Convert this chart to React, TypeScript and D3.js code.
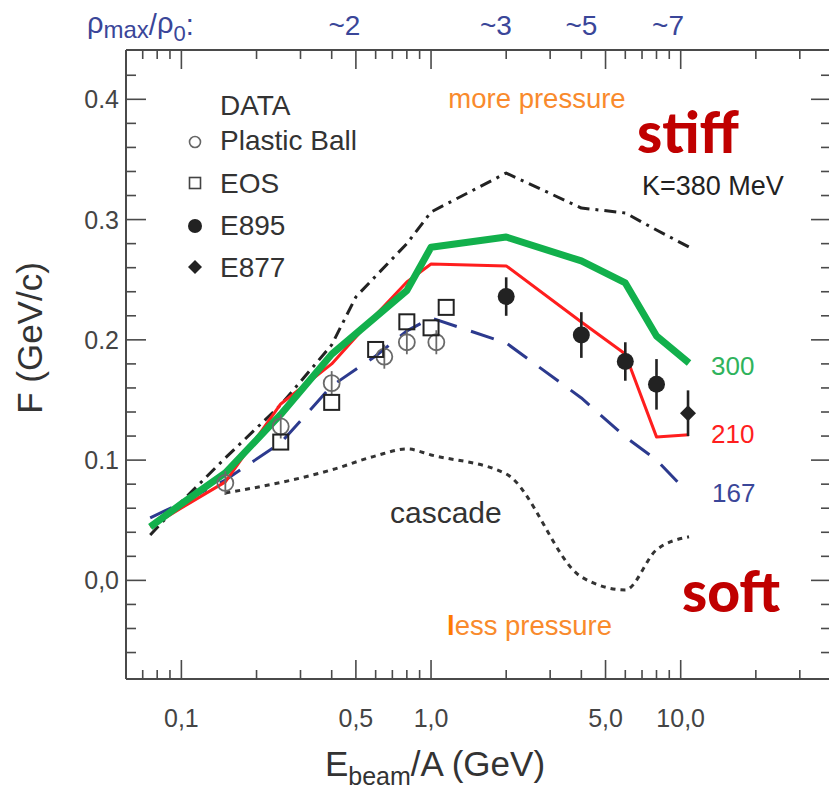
import React from "react";
import * as d3 from "d3";

// Beam energies (GeV per nucleon) at which the transport calculations are drawn
const curveE = [0.075, 0.1, 0.15, 0.25, 0.4, 0.6, 0.8, 1.0, 2, 4, 6, 8, 10.8];
const k300 = [0.0445, 0.0636, 0.0894, 0.138, 0.188, 0.219, 0.241, 0.277, 0.2855, 0.2656, 0.2473, 0.2032, 0.1808];
const k210 = [0.0445, 0.0603, 0.0819, 0.1467, 0.18, 0.2207, 0.2481, 0.2631, 0.2615, 0.2149, 0.1883, 0.1193, 0.121];
const k167E = [0.075, 0.1, 0.15, 0.25, 0.4, 0.6, 0.8, 1.0, 2, 4, 6, 8, 9.8];
const k167 = [0.052, 0.0644, 0.0835, 0.1143, 0.1617, 0.1866, 0.2074, 0.2182, 0.1974, 0.1517, 0.1193, 0.1002, 0.081];
const k380E = [0.075, 0.1, 0.15, 0.25, 0.4, 0.5, 0.6, 0.8, 1.0, 2, 4, 6, 8, 10.8];
const k380 = [0.0378, 0.0653, 0.1018, 0.1459, 0.1958, 0.2357, 0.253, 0.28, 0.3063, 0.3387, 0.3096, 0.3055, 0.2913, 0.2772];
const cascadeE = [0.15, 0.25, 0.4, 0.6, 0.8, 1.0, 2, 4, 6, 8, 10.8];
const cascade = [0.0727, 0.0814, 0.0919, 0.1035, 0.1093, 0.1043, 0.0885, 0.0029, -0.0079, 0.0254, 0.0362];

// Measured flow
const plasticBallE = [0.15, 0.25, 0.4, 0.65, 0.8, 1.05];
const plasticBallF = [0.081, 0.128, 0.164, 0.186, 0.198, 0.198];
const plasticBallErr = [0.01, 0.01, 0.01, 0.01, 0.01, 0.01];
const eosE = [0.25, 0.4, 0.6, 0.8, 1.0, 1.15];
const eosF = [0.115, 0.148, 0.192, 0.215, 0.21, 0.227];
const e895E = [2, 4, 6, 8];
const e895F = [0.236, 0.204, 0.182, 0.163];
const e895Err = [0.016, 0.019, 0.016, 0.021];
const e877E = [10.7];
const e877F = [0.139];
const e877Err = [0.019];

// Axis ticks
const xMajor = [0.1, 0.5, 1, 5, 10];
const xMajorLabels = ["0,1", "0,5", "1,0", "5,0", "10,0"];
const xMinor = [0.07, 0.08, 0.09, 0.2, 0.3, 0.4, 0.6, 0.7, 0.8, 0.9, 2, 3, 4, 6, 7, 8, 9, 20, 30];
const yMajor = [0.0, 0.1, 0.2, 0.3, 0.4];
const yMajorLabels = ["0,0", "0.1", "0.2", "0.3", "0.4"];
const yMinor = [-0.06, -0.04, -0.02, 0.02, 0.04, 0.06, 0.08, 0.12, 0.14, 0.16, 0.18, 0.22, 0.24, 0.26, 0.28, 0.32, 0.34, 0.36, 0.38, 0.42];

// Peak density reached at a given beam energy
const densityE = [0.45, 1.82, 4.0, 8.9];
const densityLabels = ["~2", "~3", "~5", "~7"];

const W = 829;
const H = 789;
const FONT = "'Liberation Sans', Arial, Helvetica, sans-serif";

const x = d3.scaleLog().domain([0.06, 40]).range([126, 831]);
const y = d3.scaleLinear().domain([-0.082, 0.441]).range([679, 50]);

const AXIS = "#4a4a4a";
const GREEN = "#12b04c";
const RED = "#ff1e1e";
const BLUE = "#2c3a8e";
const ORANGE = "#f98a2c";
const DARKRED = "#c00000";

function pathOf(es: number[], vs: number[], curve: d3.CurveFactory = d3.curveLinear) {
  const line = d3
    .line<number>()
    .x((_, i) => x(es[i]))
    .y((v) => y(v))
    .curve(curve);
  return line(vs) || "";
}

export default function App() {
  const left = x.range()[0];
  const right = x.range()[1];
  const top = y.range()[1];
  const bottom = y.range()[0];

  return (
    <svg
      width={W}
      height={H}
      viewBox={`0 0 ${W} ${H}`}
      style={{ position: "absolute", left: 0, top: 0, background: "#fff" }}
      fontFamily={FONT}
    >
      <rect x={0} y={0} width={W} height={H} fill="#fff" />

      {/* frame */}
      <g stroke={AXIS} strokeWidth={2} fill="none">
        <line x1={left} x2={left} y1={top} y2={bottom} />
        <line x1={right} x2={right} y1={top} y2={bottom} />
        <line x1={left} x2={right} y1={top} y2={top} />
        <line x1={left} x2={right} y1={bottom} y2={bottom} />
      </g>

      {/* ticks on all four sides, pointing inward */}
      <g stroke={AXIS} strokeWidth={1.6}>
        {xMajor.map((e) => (
          <g key={"xM" + e}>
            <line x1={x(e)} x2={x(e)} y1={bottom} y2={bottom - 19} />
            <line x1={x(e)} x2={x(e)} y1={top} y2={top + 19} />
          </g>
        ))}
        {xMinor.map((e) => (
          <g key={"xm" + e}>
            <line x1={x(e)} x2={x(e)} y1={bottom} y2={bottom - 9} />
            <line x1={x(e)} x2={x(e)} y1={top} y2={top + 9} />
          </g>
        ))}
        {yMajor.map((v) => (
          <g key={"yM" + v}>
            <line x1={left} x2={left + 20} y1={y(v)} y2={y(v)} />
            <line x1={right} x2={right - 20} y1={y(v)} y2={y(v)} />
          </g>
        ))}
        {yMinor.map((v) => (
          <g key={"ym" + v}>
            <line x1={left} x2={left + 10} y1={y(v)} y2={y(v)} />
            <line x1={right} x2={right - 10} y1={y(v)} y2={y(v)} />
          </g>
        ))}
      </g>

      {/* tick labels */}
      <g fill="#444" fontSize={25}>
        {xMajor.map((e, i) => (
          <text key={"xl" + e} x={x(e)} y={727} textAnchor="middle">
            {xMajorLabels[i]}
          </text>
        ))}
        {yMajor.map((v, i) => (
          <text key={"yl" + v} x={119} y={y(v) + 9} textAnchor="end">
            {yMajorLabels[i]}
          </text>
        ))}
      </g>

      {/* axis titles */}
      <text x={435} y={776} textAnchor="middle" fontSize={35} fill="#333">
        E<tspan fontSize={25} dy={9}>beam</tspan>
        <tspan dy={-9}>/A (GeV)</tspan>
      </text>
      <text
        transform={`translate(42, ${338}) rotate(-90)`}
        textAnchor="middle"
        fontSize={35}
        fill="#333"
      >
        F (GeV/c)
      </text>

      {/* peak density header */}
      <g fill="#3a4699">
        <text x={87} y={33} fontSize={29}>
          ρ<tspan fontSize={24} dy={5}>max</tspan>
          <tspan dy={-3}>/</tspan>
          <tspan dy={-2}>ρ</tspan>
          <tspan fontSize={22} dy={8}>0</tspan>
          <tspan dy={-6}>:</tspan>
        </text>
        {densityE.map((e, i) => (
          <text key={"d" + i} x={x(e)} y={35} fontSize={28} textAnchor="middle">
            {densityLabels[i]}
          </text>
        ))}
      </g>

      {/* model curves */}
      <g fill="none" strokeLinejoin="round">
        <path d={pathOf(cascadeE, cascade, d3.curveMonotoneX)} stroke="#333" strokeWidth={3} strokeDasharray="5 5" />
        <path d={pathOf(k380E, k380)} stroke="#222" strokeWidth={3} strokeDasharray="12 6 3 6" />
        <path d={pathOf(k167E, k167)} stroke={BLUE} strokeWidth={3} strokeDasharray="24 15" />
        <path d={pathOf(curveE, k210)} stroke={RED} strokeWidth={3} />
        <path d={pathOf(curveE, k300)} stroke={GREEN} strokeWidth={7} />
      </g>

      {/* data */}
      <g>
        {plasticBallE.map((e, i) => (
          <g key={"pb" + i} stroke="#6a6a6a" strokeWidth={1.8} fill="none">
            <line x1={x(e)} x2={x(e)} y1={y(plasticBallF[i] - plasticBallErr[i])} y2={y(plasticBallF[i] + plasticBallErr[i])} />
            <circle cx={x(e)} cy={y(plasticBallF[i])} r={8} />
          </g>
        ))}
        {eosE.map((e, i) => (
          <rect
            key={"eos" + i}
            x={x(e) - 7.5}
            y={y(eosF[i]) - 7.5}
            width={15}
            height={15}
            fill="none"
            stroke="#222"
            strokeWidth={2}
          />
        ))}
        {e895E.map((e, i) => (
          <g key={"e895" + i}>
            <line x1={x(e)} x2={x(e)} y1={y(e895F[i] - e895Err[i])} y2={y(e895F[i] + e895Err[i])} stroke="#222" strokeWidth={2.6} />
            <circle cx={x(e)} cy={y(e895F[i])} r={8.5} fill="#222" />
          </g>
        ))}
        {e877E.map((e, i) => (
          <g key={"e877" + i}>
            <line x1={x(e)} x2={x(e)} y1={y(e877F[i] - e877Err[i])} y2={y(e877F[i] + e877Err[i])} stroke="#222" strokeWidth={2.6} />
            <path
              d={`M${x(e)},${y(e877F[i]) - 8} L${x(e) + 8},${y(e877F[i])} L${x(e)},${y(e877F[i]) + 8} L${x(e) - 8},${y(e877F[i])} Z`}
              fill="#222"
            />
          </g>
        ))}
      </g>

      {/* legend */}
      <g fontSize={28} fill="#333">
        <text x={220} y={115}>DATA</text>
        <text x={220} y={150}>Plastic Ball</text>
        <text x={220} y={193}>EOS</text>
        <text x={220} y={235}>E895</text>
        <text x={220} y={277}>E877</text>
        <circle cx={195} cy={142} r={5.5} fill="none" stroke="#666" strokeWidth={1.6} />
        <rect x={189.5} y={177.5} width={11} height={11} fill="none" stroke="#444" strokeWidth={1.6} />
        <circle cx={195} cy={226} r={7} fill="#222" />
        <path d="M195,260 L202,267 L195,274 L188,267 Z" fill="#222" />
      </g>

      {/* annotations */}
      <text x={537} y={108} textAnchor="middle" fontSize={27.5} fill={ORANGE}>
        more pressure
      </text>
      <text x={447} y={635} fontSize={27.5} fill={ORANGE}>
        <tspan fontWeight="bold" fill="#ff7a00">l</tspan>ess pressure
      </text>
      <text x={637} y={153} fontSize={57} fontWeight={900} fontFamily="Lato, 'Open Sans', sans-serif" fill={DARKRED}>
        stiff
      </text>
      <text x={682} y={612} fontSize={57} fontWeight={900} fontFamily="Lato, 'Open Sans', sans-serif" fill={DARKRED}>
        soft
      </text>
      <text x={642} y={195} fontSize={27} fill="#222">
        K=380 MeV
      </text>
      <text x={390} y={523} fontSize={30} fill="#333">
        cascade
      </text>
      <text x={711} y={375} fontSize={26} fill="#2fb35c">
        300
      </text>
      <text x={711} y={443} fontSize={26} fill={RED}>
        210
      </text>
      <text x={712} y={502} fontSize={26} fill="#3a4699">
        167
      </text>
    </svg>
  );
}
